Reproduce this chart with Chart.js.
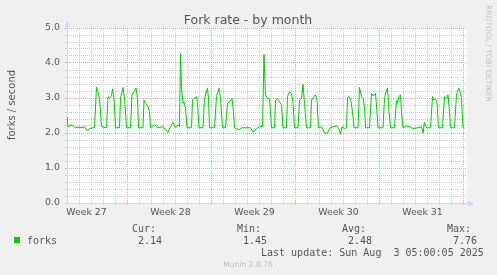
<!DOCTYPE html>
<html>
<head>
<meta charset="utf-8">
<script src="https://cdn.jsdelivr.net/npm/chart.js@4.4.1/dist/chart.umd.min.js"></script>
<style>
  html, body { margin: 0; padding: 0; background: #f0f0f0; }
  canvas { display: block; }
</style>
</head>
<body>
<canvas id="chart" width="497" height="275"></canvas>
<script>
// hours counted from the left edge of the graph (the month view spans 800 h)
var hours = [0, 2, 10, 15, 22, 32, 35, 41, 45, 52, 55, 59, 62, 65, 67, 69, 79, 82, 85, 89,
  91, 94, 97, 105, 107, 112, 115, 119, 127, 130, 134, 138, 141, 143, 152, 154, 157, 161, 165, 167,
  175, 182, 192, 202, 207, 212, 217, 222, 225, 227, 229, 232, 234, 237, 240, 249, 251, 254, 259, 261,
  264, 272, 275, 277, 281, 283, 285, 295, 299, 304, 307, 311, 317, 321, 325, 330, 333, 335, 345, 349,
  359, 367, 372, 379, 385, 391, 394, 397, 401, 405, 407, 409, 415, 417, 421, 425, 429, 432, 439, 441,
  445, 449, 452, 455, 462, 465, 469, 472, 475, 479, 487, 489, 494, 497, 500, 503, 509, 515, 521, 525,
  532, 539, 543, 547, 550, 555, 559, 561, 563, 567, 571, 574, 582, 585, 589, 592, 595, 597, 605, 609,
  612, 617, 620, 622, 632, 635, 639, 641, 644, 647, 655, 659, 661, 664, 667, 669, 672, 679, 685, 692,
  702, 709, 712, 715, 719, 727, 731, 733, 737, 740, 743, 751, 755, 759, 762, 765, 767, 775, 779, 782,
  784, 787, 789, 792, 795];
var forks = [2.47, 2.18, 2.23, 2.17, 2.16, 2.16, 2.18, 2.06, 2.13, 2.15, 2.16, 3.31, 3.18, 2.99, 2.61, 2.18, 2.15, 3.04, 2.99, 3.07,
  3.26, 2.99, 2.15, 2.15, 2.99, 3.30, 2.99, 2.15, 2.15, 3.09, 3.18, 3.28, 2.99, 2.15, 2.15, 2.94, 2.85, 2.80, 2.61, 2.15,
  2.23, 2.15, 2.18, 2.02, 2.18, 2.30, 2.15, 2.23, 2.18, 4.28, 3.28, 2.85, 2.89, 2.70, 2.15, 2.15, 2.94, 2.99, 3.04, 2.85,
  2.15, 2.15, 2.99, 3.09, 3.28, 2.99, 2.15, 2.15, 3.04, 3.28, 2.99, 2.15, 2.15, 2.85, 2.89, 2.99, 2.61, 2.15, 2.09, 2.15,
  2.15, 2.15, 2.02, 2.13, 2.18, 2.18, 4.25, 3.09, 2.99, 2.99, 2.61, 2.15, 2.15, 2.94, 2.99, 2.89, 2.80, 2.15, 2.15, 3.04,
  3.18, 3.13, 2.85, 2.15, 2.15, 2.94, 2.99, 3.39, 2.85, 2.15, 2.15, 2.94, 3.04, 3.09, 2.94, 2.15, 2.18, 2.00, 2.00, 2.13,
  2.18, 2.20, 2.15, 1.97, 2.18, 2.13, 2.15, 2.99, 3.04, 2.99, 2.61, 2.15, 2.15, 3.30, 3.04, 2.99, 2.75, 2.15, 2.15, 3.13,
  3.06, 3.13, 2.61, 2.15, 2.15, 2.99, 3.23, 3.28, 2.61, 2.15, 2.15, 2.94, 2.85, 3.04, 3.09, 2.61, 2.15, 2.20, 2.18, 2.13,
  2.15, 2.18, 2.00, 2.30, 2.15, 2.15, 3.04, 2.94, 2.99, 2.85, 2.15, 2.15, 3.04, 2.99, 3.09, 2.61, 2.15, 2.15, 3.09, 3.23,
  3.28, 3.13, 2.99, 2.15, 2.14];

var weekLabels = ['Week 27', 'Week 28', 'Week 29', 'Week 30', 'Week 31'];
var weekLabelHours = [48, 216, 384, 552, 720];
var weekLines = [120, 288, 456, 624, 792];
var legendHeads = ['Cur:', 'Min:', 'Avg:', 'Max:'];
var legendValues = ['2.14', '1.45', '2.48', '7.76'];

var green = '#00cc00';
var gridGray = '#cdcdcd';
var gridRed = '#e8a4a4';
var axisBlue = '#cfd6f8';
var textGray = '#555555';

Chart.defaults.font.family = '"DejaVu Sans", sans-serif';

// background, axes with arrows and the munin legend text
var munin = {
  id: 'munin',
  beforeDraw: function (chart) {
    var c = chart.ctx, a = chart.chartArea;
    c.save();
    c.fillStyle = '#f0f0f0';
    c.fillRect(0, 0, chart.width, chart.height);
    c.fillStyle = '#ffffff';
    c.fillRect(a.left, a.top, a.right - a.left, a.bottom - a.top);
    c.restore();
  },
  beforeDatasetsDraw: function (chart) {
    var c = chart.ctx, a = chart.chartArea;
    var x0 = a.left + 0.5, y0 = a.bottom + 0.5;
    c.save();
    c.strokeStyle = axisBlue;
    c.fillStyle = axisBlue;
    c.lineWidth = 1;
    c.beginPath();
    c.moveTo(x0, y0);
    c.lineTo(x0, a.top - 3);
    c.moveTo(x0 - 3, y0);
    c.lineTo(a.right + 2, y0);
    c.stroke();
    c.beginPath();
    c.moveTo(x0, a.top - 7);
    c.lineTo(x0 - 3, a.top - 1);
    c.lineTo(x0 + 3, a.top - 1);
    c.closePath();
    c.fill();
    c.beginPath();
    c.moveTo(a.right + 7, y0);
    c.lineTo(a.right + 1, y0 - 3);
    c.lineTo(a.right + 1, y0 + 3);
    c.closePath();
    c.fill();
    c.restore();
  },
  afterDraw: function (chart) {
    var c = chart.ctx;
    c.save();
    c.fillStyle = textGray;
    c.textBaseline = 'alphabetic';

    c.font = '12.5px "DejaVu Sans"';
    c.textAlign = 'center';
    c.fillText('Fork rate - by month', 248, 24);

    c.save();
    c.font = '10px "DejaVu Sans"';
    c.translate(15, 105);
    c.rotate(-Math.PI / 2);
    c.fillText('forks / second', 0, 0);
    c.restore();

    c.save();
    c.fillStyle = '#c4c4c4';
    c.font = '7.5px "DejaVu Sans"';
    c.translate(486, 53.5);
    c.rotate(Math.PI / 2);
    c.fillText('RRDTOOL / TOBI OETIKER', 0, 0);
    c.restore();

    c.fillStyle = green;
    c.fillRect(14, 237, 6, 6);

    c.fillStyle = textGray;
    c.font = '10px "DejaVu Sans Mono"';
    c.textAlign = 'left';
    c.fillText('forks', 27, 243.5);
    var headX = [132, 237, 342, 447];
    var valX = [138, 243, 348, 453];
    for (var i = 0; i < legendHeads.length; i++) {
      c.fillText(legendHeads[i], headX[i], 231.5);
      c.fillText(legendValues[i], valX[i], 243.5);
    }
    c.fillText('Last update: Sun Aug  3 05:00:05 2025', 261, 255.5);

    c.fillStyle = '#c0c0c0';
    c.font = '7.6px "DejaVu Sans"';
    c.textAlign = 'center';
    c.fillText('Munin 2.0.76', 248, 266.5);
    c.restore();
  }
};

var ctx = document.getElementById('chart').getContext('2d');
var chart = new Chart(ctx, {
  type: 'line',
  data: {
    datasets: [{
      label: 'forks',
      data: hours.map(function (h, i) { return { x: h, y: forks[i] }; }),
      borderColor: green,
      borderWidth: 1,
      pointRadius: 0,
      tension: 0,
      fill: false
    }]
  },
  options: {
    responsive: false,
    animation: false,
    devicePixelRatio: 1,
    layout: { padding: { top: 28, right: 30, bottom: 0, left: 0 } },
    plugins: {
      legend: { display: false },
      tooltip: { enabled: false }
    },
    scales: {
      x: {
        type: 'linear',
        min: 0,
        max: 800,
        afterBuildTicks: function (scale) {
          var t = [];
          for (var h = 0; h <= 792; h += 24) t.push({ value: h });
          scale.ticks = t;
        },
        afterFit: function (scale) { scale.height = 72; },
        grid: {
          color: function (c) { return weekLines.indexOf(c.tick.value) >= 0 ? gridRed : gridGray; },
          tickLength: 2
        },
        border: { display: false, dash: [1, 1] },
        ticks: {
          autoSkip: false,
          maxRotation: 0,
          minRotation: 0,
          padding: 2,
          labelOffset: -4.5,
          color: textGray,
          font: { size: 9.4 },
          callback: function (value) {
            var i = weekLabelHours.indexOf(value);
            return i >= 0 ? weekLabels[i] : '';
          }
        }
      },
      y: {
        type: 'linear',
        min: 0,
        max: 5,
        afterBuildTicks: function (scale) {
          var t = [];
          for (var k = 0; k <= 25; k++) t.push({ value: Math.round(k * 2) / 10 });
          scale.ticks = t;
        },
        afterFit: function (scale) { scale.width = 67; },
        grid: {
          color: function (c) { return Number.isInteger(c.tick.value) ? gridRed : gridGray; },
          tickLength: 2
        },
        border: { display: false, dash: [1, 1] },
        ticks: {
          autoSkip: false,
          padding: 5,
          color: textGray,
          font: { size: 9.4 },
          callback: function (value) {
            return Number.isInteger(value) ? value.toFixed(1) : '';
          }
        }
      }
    }
  },
  plugins: [munin]
});
</script>
</body>
</html>
